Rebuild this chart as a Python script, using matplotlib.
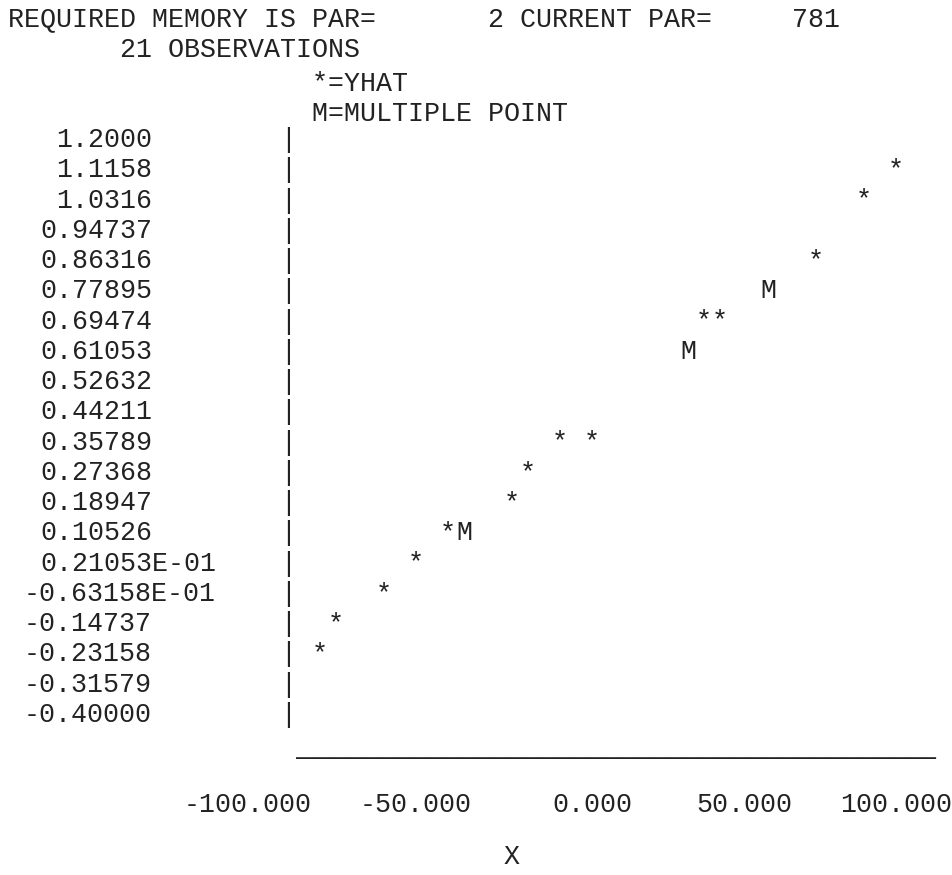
import matplotlib
matplotlib.use('Agg')
import matplotlib.pyplot as plt
from matplotlib import transforms

# canvas / line-printer grid
W, H = 952, 875
FONT = 'Liberation Mono'
FS = 19.2          # points, gives ~16 px character pitch at 100 dpi
PITCH = 16         # px per character column
X0 = 8             # left edge of column 0 (px)

# header text
header_lines = ['REQUIRED MEMORY IS PAR=       2 CURRENT PAR=     781',
                '       21 OBSERVATIONS',
                '                   *=YHAT',
                '                   M=MULTIPLE POINT']
header_y = [19, 50, 84, 114]   # px from top

# y axis row labels (top to bottom)
row_labels = ['1.2000', '1.1158', '1.0316', '0.94737', '0.86316', '0.77895',
              '0.69474', '0.61053', '0.52632', '0.44211', '0.35789', '0.27368',
              '0.18947', '0.10526', '0.21053E-01', '-0.63158E-01', '-0.14737',
              '-0.23158', '-0.31579', '-0.40000']

# x axis
x_ticks = [-100, -50, 0, 50, 100]
x_label = 'X'

# plotted points: x, yhat row, symbol
pt_x = [85, 75, 60, 45, 25, 30, 20, -20, -10, -30, -35, -55, -50, -65, -75, -90, -95]
pt_y = [1.1158, 1.0316, 0.86316, 0.77895, 0.69474, 0.69474, 0.61053, 0.35789,
        0.35789, 0.27368, 0.18947, 0.10526, 0.10526, 0.021053, -0.063158,
        -0.14737, -0.23158]
pt_sym = ['*', '*', '*', 'M', '*', '*', 'M', '*', '*', '*', '*', '*', 'M',
          '*', '*', '*', '*']

INK = '#222222'
plt.rcParams['font.family'] = [FONT, 'DejaVu Sans Mono']

fig = plt.figure(figsize=(W / 100, H / 100), dpi=100)
fig.patch.set_facecolor('white')

# pixel coords (origin top-left) -> display
pix = transforms.Affine2D().scale(1 / W, -1 / H).translate(0, 1) + fig.transFigure

def col(k):
    return X0 + k * PITCH

# plot area: x=-100 at column 18 centre, x=100 at column 58 centre
ax = fig.add_axes([col(18.5) / W, 1 - 715 / H, (col(58.5) - col(18.5)) / W, (715 - 140) / H])
ax.set_xlim(-100, 100)
ax.set_ylim(-0.4, 1.2)
ax.axis('off')

txt = dict(fontsize=FS, color=INK, family=[FONT, 'DejaVu Sans Mono'])

for line, y in zip(header_lines, header_y):
    fig.text(col(0), y, line, transform=pix, ha='left', va='center', **txt)

# row labels and the '|' axis
row_tr = transforms.blended_transform_factory(pix, ax.transData)
for lab in row_labels:
    yv = float(lab)
    end_col = 12 if 'E' in lab else 8
    start = end_col - len(lab) + 1
    ax.text(col(start), yv, lab, transform=row_tr, ha='left', va='center', **txt)
    ax.text(col(17) + PITCH / 2, yv, '|', transform=row_tr, ha='center', va='center', **txt)

# data points drawn as characters
for xv, yv, s in zip(pt_x, pt_y, pt_sym):
    ax.text(xv, yv, s, ha='center', va='center', **txt)

# underline of the x axis
fig.text(col(18), 749, '_' * 40, transform=pix, ha='left', va='center', **txt)

# x tick labels, right-justified at their column
tick_tr = transforms.blended_transform_factory(ax.transData, pix)
tick_tr = tick_tr + transforms.Affine2D().translate(PITCH / 2, 0)
for t in x_ticks:
    ax.text(t, 805, f'{t:.3f}', transform=tick_tr, ha='right', va='center', **txt)

fig.text(col(31) + PITCH / 2, 857, x_label, transform=pix, ha='center', va='center', **txt)

fig.savefig('out.png', dpi=100, facecolor='white')
